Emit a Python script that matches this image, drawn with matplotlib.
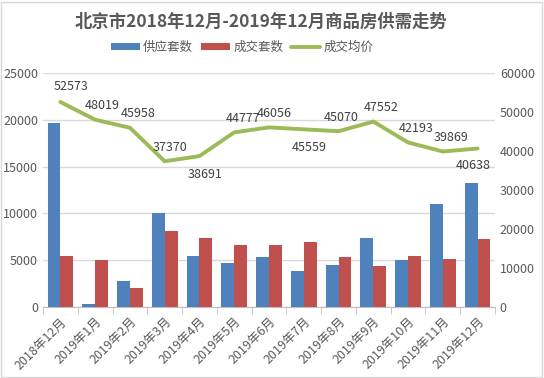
import numpy as np
import matplotlib.pyplot as plt
from matplotlib.patches import Rectangle

plt.rcParams['font.family'] = ['Noto Sans CJK SC', 'DejaVu Sans']

months = ['2018年12月', '2019年1月', '2019年2月', '2019年3月', '2019年4月',
          '2019年5月', '2019年6月', '2019年7月', '2019年8月', '2019年9月',
          '2019年10月', '2019年11月', '2019年12月']
supply = [19700, 300, 2780, 10040, 5450, 4700, 5340, 3850, 4490, 7370, 5020, 11000, 13250]
deals = [5450, 5020, 2030, 8120, 7370, 6620, 6620, 6940, 5340, 4380, 5450, 5130, 7260]
price = [52573, 48019, 45958, 37370, 38691, 44777, 46056, 45559, 45070, 47552, 42193, 39869, 40638]

# label offsets (points) for the price labels
lab_off = [(8, 11), (5, 10), (6, 10), (4, 10), (4, -13), (6, 10), (4, 10),
           (4, -13), (2, 10), (6, 10), (6, 10), (6, 10), (-3, -12)]

grey = '#595959'
blue = '#4F81BD'
red = '#C0504D'
green = '#9BBB59'

fig = plt.figure(figsize=(5.44, 3.78), dpi=100)
fig.patches.append(Rectangle((0.002, 0.003), 0.995, 0.993, transform=fig.transFigure,
                             fill=False, edgecolor='#d9d9d9', linewidth=1))
ax = fig.add_axes([43/544, 1-307/378, (495-43)/544, (307-73)/378])
ax2 = ax.twinx()

x = np.arange(len(months))
w = 0.37
b1 = ax.bar(x - w/2, supply, w, color=blue, label='供应套数', zorder=3)
b2 = ax.bar(x + w/2, deals, w, color=red, label='成交套数', zorder=3)
l1, = ax2.plot(x, price, color=green, lw=2.8, label='成交均价', solid_capstyle='round')

for i, v in enumerate(price):
    ax2.annotate(str(v), (x[i], v), xytext=lab_off[i], textcoords='offset points',
                 ha='center', va='center', fontsize=9, color='#404040')

ax.set_xlim(-0.5, len(months) - 0.5)
ax.set_ylim(0, 25000)
ax.set_yticks(np.arange(0, 25001, 5000))
ax2.set_ylim(0, 60000)
ax2.set_yticks(np.arange(0, 60001, 10000))

ax.yaxis.grid(True, color='#d9d9d9', lw=1, zorder=0)
ax.set_axisbelow(True)
for a in (ax, ax2):
    for s in a.spines.values():
        s.set_visible(False)
    a.tick_params(axis='y', length=0, labelsize=9, labelcolor=grey)
ax.spines['bottom'].set_visible(True)
ax.spines['bottom'].set_color('#bfbfbf')

ax.set_xticks(list(x - 0.5) + [len(months) - 0.5], minor=True)
ax.set_xticks(x)
ax.set_xticklabels(months, rotation=45, ha='right', rotation_mode='anchor',
                   fontsize=9, color=grey)
ax.tick_params(axis='x', which='major', length=0, pad=6)
ax.tick_params(axis='x', which='minor', length=5, color='#bfbfbf')

fig.text(261/544, 1-22/378, '北京市2018年12月-2019年12月商品房供需走势', ha='center', va='center',
         fontsize=12.5, fontweight='bold', color=grey)
fig.legend(handles=[b1, b2, l1], loc='center', bbox_to_anchor=(242/544, 1-47/378),
           ncol=3, frameon=False, fontsize=9, labelcolor=grey, handlelength=2.3,
           handleheight=0.5, columnspacing=0.6, handletextpad=0.3)

fig.savefig('out.png', dpi=100)
